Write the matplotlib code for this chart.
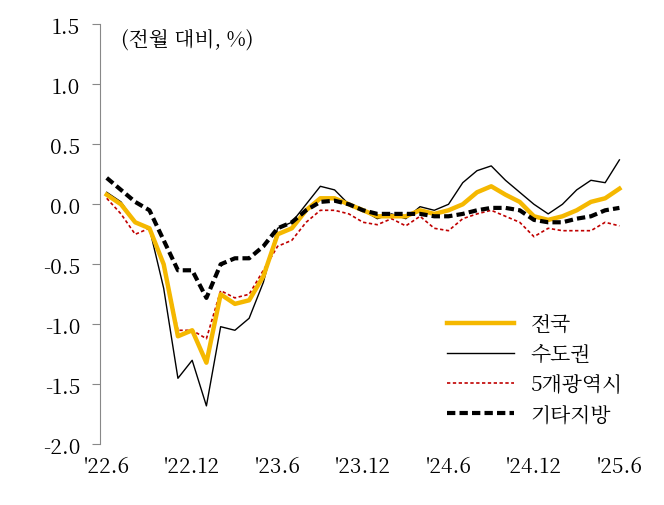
import matplotlib
matplotlib.use("Agg")
import matplotlib.pyplot as plt
from matplotlib import font_manager

# pick whatever CJK font is actually registered
cjk = [f.name for f in font_manager.fontManager.ttflist if "CJK" in f.name]
kr = [n for n in cjk if "KR" in n] or cjk
plt.rcParams["font.family"] = ["sans-serif"]
plt.rcParams["font.sans-serif"] = kr[:1] + ["DejaVu Sans"]
plt.rcParams["axes.unicode_minus"] = False

tick_labels = ["'22.6", "'22.12", "'23.6", "'23.12", "'24.6", "'24.12", "'25.6"]

nation = [0.08, 0.0, -0.15, -0.2, -0.5, -1.1, -1.05, -1.32, -0.75, -0.83, -0.8, -0.6,
          -0.25, -0.2, -0.05, 0.05, 0.05, 0.0, -0.05, -0.1, -0.1, -0.1, -0.05, -0.08,
          -0.05, 0.0, 0.1, 0.15, 0.08, 0.02, -0.1, -0.13, -0.1, -0.05, 0.02, 0.05, 0.13]
capital = [0.1, 0.02, -0.15, -0.2, -0.7, -1.45, -1.3, -1.68, -1.02, -1.05, -0.95, -0.65,
           -0.2, -0.15, 0.0, 0.15, 0.12, 0.0, -0.05, -0.12, -0.08, -0.12, -0.02, -0.05,
           0.0, 0.18, 0.28, 0.32, 0.2, 0.1, 0.0, -0.08, 0.0, 0.12, 0.2, 0.18, 0.37]
metro5 = [0.05, -0.08, -0.25, -0.2, -0.5, -1.05, -1.05, -1.12, -0.72, -0.78, -0.75, -0.55,
          -0.35, -0.3, -0.15, -0.05, -0.05, -0.08, -0.15, -0.17, -0.12, -0.18, -0.1, -0.2,
          -0.22, -0.12, -0.08, -0.05, -0.1, -0.15, -0.27, -0.2, -0.22, -0.22, -0.22, -0.15, -0.18]
others = [0.22, 0.12, 0.02, -0.05, -0.3, -0.55, -0.55, -0.78, -0.5, -0.45, -0.45, -0.35,
          -0.2, -0.15, -0.05, 0.02, 0.03, 0.0, -0.05, -0.08, -0.08, -0.08, -0.08, -0.1,
          -0.1, -0.08, -0.05, -0.03, -0.03, -0.05, -0.13, -0.15, -0.15, -0.12, -0.1, -0.05, -0.03]

x = list(range(len(nation)))

fig = plt.figure(figsize=(6.64, 5.06), dpi=100)
ax = fig.add_axes([0.15, 0.12, 0.80, 0.83])

ax.plot(x, nation, color="#f5b800", lw=3.2, label="전국", zorder=4)
ax.plot(x, capital, color="black", lw=1.0, label="수도권", zorder=3)
ax.plot(x, metro5, color="#c00000", lw=1.2, ls=(0, (2, 1.5)), label="5개광역시", zorder=3)
ax.plot(x, others, color="black", lw=3.0, ls=(0, (2, 1)), label="기타지방", zorder=5)

ax.set_ylim(-2.0, 1.5)
ax.set_yticks([-2.0, -1.5, -1.0, -0.5, 0.0, 0.5, 1.0, 1.5])
ax.set_yticklabels([f"{v:.1f}" for v in ax.get_yticks()])
ax.set_xlim(-0.5, 36.8)
ax.set_xticks(range(0, 37, 6))
ax.set_xticklabels(tick_labels)
ax.tick_params(labelsize=15, length=0, pad=8)
ax.tick_params(axis="y", length=6, direction="out", color="#888888")
for s in ["top", "right", "bottom"]:
    ax.spines[s].set_visible(False)
ax.spines["left"].set_color("#888888")

ax.text(1.0, 1.38, "(전월 대비, %)", fontsize=15, va="center")
ax.legend(loc="lower right", bbox_to_anchor=(1.02, 0.0), frameon=False, fontsize=15,
          handlelength=3.2, labelspacing=0.4)

fig.savefig("out.png", dpi=100)
